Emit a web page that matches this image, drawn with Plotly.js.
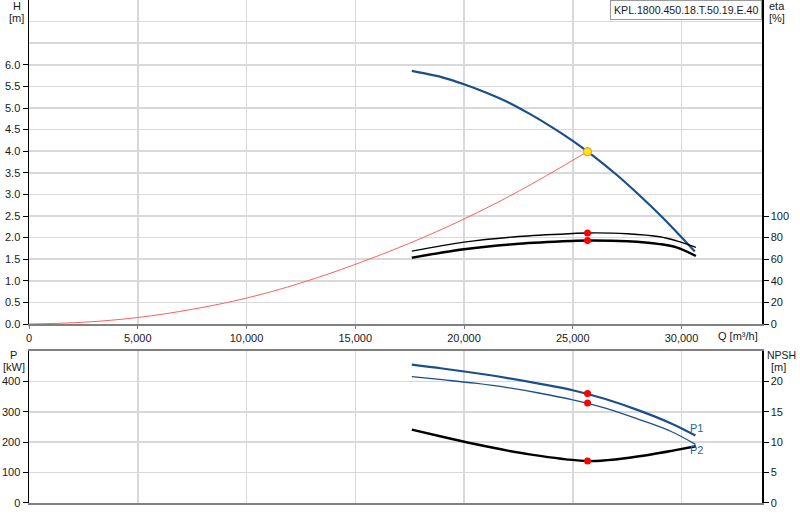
<!DOCTYPE html>
<html>
<head>
<meta charset="utf-8">
<script src="https://cdn.plot.ly/plotly-3.0.1.min.js"></script>
<style>
  body { margin: 0; background: #fff; }
  #chart { width: 800px; height: 520px; }
</style>
</head>
<body>
<div id="chart"></div>
<script>
// Pump curve values
// Q in m3/h, H in m
var qPump = [17600, 18000, 19000, 20000, 21000, 22000, 23000, 24000, 25000, 26000, 27000, 28000, 29000, 30000, 30610];
var hPump = [5.86, 5.82, 5.71, 5.55, 5.36, 5.14, 4.87, 4.57, 4.24, 3.87, 3.46, 3.01, 2.53, 2.01, 1.68];

// system curve (red)
var qSys = [0, 2500, 5000, 7500, 10000, 12500, 15000, 17500, 20000, 22500, 25680];
var hSys = [0, 0.04, 0.15, 0.34, 0.6, 0.95, 1.38, 1.87, 2.43, 3.07, 3.99];

// efficiency curves, eta in %
var qEta = [17600, 20000, 22500, 25000, 25680, 27500, 29000, 29770, 30660];
var etaUpper = [67.5, 75.8, 81, 83.8, 84.3, 83.6, 80.8, 77, 71];
var etaLower = [61.3, 69.2, 74.3, 76.9, 77.3, 76.6, 74, 71, 63];

// power curves, P in kW
var qPow = [17600, 19000, 20500, 22000, 23500, 25000, 26500, 28000, 29500, 30640];
var p1 = [455, 442.5, 427.7, 411, 392, 371, 342, 305.5, 262.5, 222];
var p2 = [416, 405.5, 394, 379.5, 361, 339, 312, 276, 236, 193];

// NPSH curve in m
var qNpsh = [17600, 19000, 20500, 22000, 23500, 24700, 25680, 26600, 27600, 28600, 29600, 30660];
var npsh = [12.08, 10.9, 9.7, 8.62, 7.75, 7.18, 6.89, 7.06, 7.45, 7.98, 8.62, 9.34];

// duty point
var qDuty = 25680;
var hDuty = 3.99;
var etaDuty = [84.3, 77.3];
var pDuty = [360, 329];
var npshDuty = 6.89;

var qTicks = [0, 5000, 10000, 15000, 20000, 25000, 30000];
var hTicks = [0, 0.5, 1, 1.5, 2, 2.5, 3, 3.5, 4, 4.5, 5, 5.5, 6];
var etaTicks = [0, 20, 40, 60, 80, 100];
var pTicks = [0, 100, 200, 300, 400];
var npshTicks = [0, 5, 10, 15, 20];

var pumpName = "KPL.1800.450.18.T.50.19.E.40";

var blue = '#1c4e8a';
var grid = '#d9d9d9';
var txt = '#1a1a1a';
var fnt = 'Liberation Sans, Arial, sans-serif';

var traces = [
  {x: qSys, y: hSys, xaxis: 'x', yaxis: 'y', mode: 'lines', line: {color: '#ff6060', width: 1, shape: 'spline'}},
  {x: qPump, y: hPump, xaxis: 'x', yaxis: 'y', mode: 'lines', line: {color: blue, width: 2.2, shape: 'spline'}},
  {x: qEta, y: etaUpper, xaxis: 'x', yaxis: 'y2', mode: 'lines', line: {color: '#000', width: 1.4, shape: 'spline'}},
  {x: qEta, y: etaLower, xaxis: 'x', yaxis: 'y2', mode: 'lines', line: {color: '#000', width: 2.4, shape: 'spline'}},
  {x: [qDuty, qDuty], y: etaDuty, xaxis: 'x', yaxis: 'y2', mode: 'markers', marker: {color: '#ff0000', size: 7}},
  {x: [qDuty], y: [hDuty], xaxis: 'x', yaxis: 'y', mode: 'markers',
   marker: {color: '#ffe81a', size: 8, line: {color: '#ff9a2e', width: 1.2}}},
  {x: qPow, y: p2, xaxis: 'x2', yaxis: 'y3', mode: 'lines', line: {color: blue, width: 1.3, shape: 'spline'}},
  {x: qPow, y: p1, xaxis: 'x2', yaxis: 'y3', mode: 'lines', line: {color: blue, width: 2.2, shape: 'spline'}},
  {x: qNpsh, y: npsh, xaxis: 'x2', yaxis: 'y4', mode: 'lines', line: {color: '#000', width: 2.4, shape: 'spline'}},
  {x: [qDuty, qDuty], y: pDuty, xaxis: 'x2', yaxis: 'y3', mode: 'markers', marker: {color: '#ff0000', size: 7}},
  {x: [qDuty], y: [npshDuty], xaxis: 'x2', yaxis: 'y4', mode: 'markers', marker: {color: '#ff0000', size: 7}}
];

var tickFont = {family: fnt, size: 11, color: txt};

// small helper for the axis unit labels
function label(text, x, y, anchor, size) {
  return {text: text, xref: 'paper', yref: 'paper', x: x, y: y, xanchor: anchor, yanchor: 'middle',
          showarrow: false, font: {size: size || 11, color: txt}};
}

var layout = {
  width: 800,
  height: 520,
  margin: {l: 29, r: 38, t: 0, b: 17},
  showlegend: false,
  paper_bgcolor: '#fff',
  plot_bgcolor: '#fff',
  font: {family: fnt, size: 11, color: txt},
  xaxis: {
    range: [0, 33700], domain: [0, 1], anchor: 'y',
    tickvals: qTicks, tickformat: ',d', tickfont: tickFont,
    showgrid: true, gridcolor: grid, gridwidth: 1.5, zeroline: false,
    showline: true, linecolor: '#808080', linewidth: 2, mirror: true,
    ticks: 'outside', ticklen: 3, tickcolor: '#808080'
  },
  xaxis2: {
    range: [0, 33700], domain: [0, 1], anchor: 'y3', matches: 'x',
    tickvals: qTicks, showticklabels: false,
    showgrid: true, gridcolor: grid, gridwidth: 1.5, zeroline: false,
    showline: true, linecolor: '#808080', linewidth: 2, mirror: true,
    ticks: ''
  },
  yaxis: {
    domain: [0.35586, 1], anchor: 'x', range: [0, 7.5],
    tickvals: hTicks, tickformat: '.1f', tickfont: tickFont,
    showgrid: true, gridcolor: grid, gridwidth: 1.5, zeroline: false,
    showline: true, linecolor: '#000', linewidth: 1.5,
    ticks: 'outside', ticklen: 5, tickcolor: '#000',
    minor: {tickmode: 'array', tickvals: [6.5, 7.0], showgrid: true, gridcolor: grid, gridwidth: 1.5, ticks: ''}
  },
  yaxis2: {
    overlaying: 'y', side: 'right', anchor: 'x', range: [0, 300],
    tickvals: etaTicks, tickfont: tickFont,
    showgrid: false, zeroline: false,
    showline: true, linecolor: '#000', linewidth: 1.5,
    ticks: 'outside', ticklen: 5, tickcolor: '#000'
  },
  yaxis3: {
    domain: [0, 0.30219], anchor: 'x2', range: [0, 500],
    tickvals: pTicks, tickfont: tickFont,
    showgrid: true, gridcolor: grid, gridwidth: 1.5, zeroline: false,
    showline: true, linecolor: '#000', linewidth: 1.5,
    ticks: 'outside', ticklen: 5, tickcolor: '#000'
  },
  yaxis4: {
    overlaying: 'y3', side: 'right', anchor: 'x2', range: [0, 25],
    tickvals: npshTicks, tickfont: tickFont,
    showgrid: false, zeroline: false,
    showline: true, linecolor: '#000', linewidth: 1.5,
    ticks: 'outside', ticklen: 5, tickcolor: '#000'
  },
  annotations: [
    label('H', -0.0164, 0.988, 'center'),
    label('[m]', -0.0164, 0.9645, 'center'),
    label('eta', 1.0072, 0.988, 'left'),
    label('[%]', 1.0072, 0.9645, 'left'),
    label('P', -0.0205, 0.2942, 'center'),
    label('[kW]', -0.0205, 0.2704, 'center'),
    label('NPSH', 1.004, 0.2942, 'left', 10.5),
    label('[m]', 1.0225, 0.2704, 'center'),
    label('Q [m³/h]', 0.967, 0.332, 'center'),
    {text: pumpName, xref: 'paper', yref: 'paper', x: 1, y: 1, xanchor: 'right', yanchor: 'top',
     showarrow: false, bgcolor: '#fff', bordercolor: '#999', borderwidth: 1, borderpad: 3,
     font: {size: 10.6, color: txt}},
    {text: 'P1', xref: 'x2', yref: 'y3', x: 30700, y: 246, xanchor: 'center', yanchor: 'middle',
     showarrow: false, font: {size: 11, color: '#2a62a8'}},
    {text: 'P2', xref: 'x2', yref: 'y3', x: 30700, y: 174, xanchor: 'center', yanchor: 'middle',
     showarrow: false, font: {size: 11, color: '#2a62a8'}}
  ]
};

Plotly.newPlot('chart', traces, layout, {staticPlot: true, displayModeBar: false});
</script>
</body>
</html>
